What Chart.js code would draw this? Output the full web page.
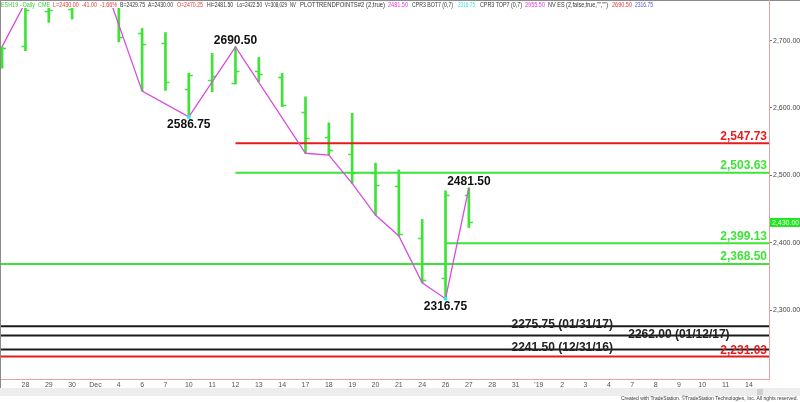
<!DOCTYPE html>
<html>
<head>
<meta charset="utf-8">
<script src="https://cdn.jsdelivr.net/npm/chart.js@4.4.1/dist/chart.umd.min.js"></script>
<style>
  html, body { margin: 0; padding: 0; background: #fff; }
  #wrap { width: 800px; height: 402px; position: relative; }
</style>
</head>
<body>
<div id="wrap"><canvas id="esChart"></canvas></div>
<script>
// ─── Data ─────────────────────────────────────────────────
// trading days (Nov 27 2018 .. Jan 14 2019), one slot each
const dayLabels = ['27','28','29','30','Dec','4','6','7','10','11','12','13','14','17','18','19','20','21','24','26','27',
                   '28','31',"'19",'2','3','4','7','8','9','10','11','14'];

const opens  = [2665, 2692, 2744, 2747, 2790, 2798, 2712, 2697, 2628, 2642, 2637, 2655, 2646, 2594.5, 2556.5, 2531, 2503, 2484, 2406.5, 2348, 2470.25];
const highs  = [2691, 2757, 2756, 2765, 2822, 2805, 2718, 2712, 2651.5, 2681, 2690.5, 2675, 2651.5, 2616.5, 2578, 2592, 2518, 2508, 2434.5, 2477, 2481.5];
const lows   = [2659, 2685, 2727, 2732, 2780, 2698, 2625, 2626, 2586.75, 2624, 2635.5, 2639, 2602, 2532.75, 2530, 2488, 2441, 2410, 2340.5, 2316.75, 2422.5];
const closes = [2689, 2746, 2746, 2760, 2800, 2706, 2695, 2639, 2649, 2647, 2655, 2650, 2605, 2555, 2537.5, 2503, 2485.5, 2413, 2344, 2470.5, 2430];

// trend-point zigzag (day index, price)
const pivotIdx  = [0, 1, 4, 6, 8, 10, 13, 14, 15, 16, 17, 18, 19, 20];
const pivotVals = [2691, 2757, 2822, 2625, 2586.75, 2690.5, 2532.75, 2530, 2488, 2441, 2410, 2340.5, 2316.75, 2481.5];
const labelledHighs = [2690.5, 2481.5];
const labelledLows  = [2586.75, 2316.75];

// retracement levels and the day they start
const fibLevels = [2547.73, 2503.63, 2399.13, 2368.50];
const fibFrom   = [10, 10, 19, 0];

// historic lows
const histLows  = [2275.75, 2262.00, 2241.50];
const histDates = ['01/31/17', '01/12/17', '12/31/16'];
const floorLevel = 2231.03;

const yTicks = [2300, 2400, 2500, 2600, 2700];

// ─── Styles ───────────────────────────────────────────────
const GREEN  = '#3de436';
const RED    = '#e61c1c';
const PINK   = '#d84cdf';
const BLACK  = '#1c1c1c';
const AXIS   = '#e3a3a3';
const FONT   = "'Liberation Sans', Arial, sans-serif";
const fibColors = [RED, GREEN, GREEN, GREEN];
const histLabelAt = [24, 29, 24];

const X_MIN = -0.09, X_MAX = 32.86;
const Y_MIN = 2197.6, Y_MAX = 2748.4;

const fmt = v => v.toLocaleString('en-US', { minimumFractionDigits: 2, maximumFractionDigits: 2 });

function levelLine(v, from, color) {
  return {
    type: 'line',
    data: [{ x: from === null ? X_MIN : from, y: v }, { x: X_MAX, y: v }],
    borderColor: color, borderWidth: 2, pointRadius: 0, clip: 0, order: 2,
  };
}

// ─── OHLC ticks + annotations ─────────────────────────────
const ohlcTicks = {
  id: 'ohlcTicks',
  afterDatasetDraw(chart, args) {
    if (args.index !== 0) return;
    const { ctx, chartArea: a, scales: { x, y } } = chart;
    ctx.save();
    ctx.beginPath();
    ctx.rect(a.left, a.top, a.right - a.left, a.bottom - a.top);
    ctx.clip();
    ctx.strokeStyle = GREEN;
    ctx.lineWidth = 1.5;
    opens.forEach((o, i) => {
      const px = x.getPixelForValue(i);
      const yo = Math.round(y.getPixelForValue(o)) + 0.5;
      const yc = Math.round(y.getPixelForValue(closes[i])) + 0.5;
      ctx.beginPath();
      ctx.moveTo(px - 4, yo); ctx.lineTo(px, yo);
      ctx.moveTo(px, yc); ctx.lineTo(px + 4, yc);
      ctx.stroke();
    });
    ctx.restore();
  },
};

const annotations = {
  id: 'annotations',
  beforeDraw(chart) {
    const { ctx, width } = chart;
    ctx.save();
    // scroll strip
    ctx.fillStyle = '#ededed';
    ctx.fillRect(0, 388, width, 8);
    ctx.fillStyle = '#cfcfcf';
    ctx.fillRect(757, 389, 6, 6);
    ctx.restore();
  },
  afterDraw(chart) {
    const { ctx, chartArea: a, scales: { x, y }, width } = chart;
    ctx.save();

    // frame
    ctx.strokeStyle = '#8a8a8a';
    ctx.lineWidth = 1;
    ctx.beginPath();
    ctx.moveTo(0, 0.5); ctx.lineTo(width, 0.5);
    ctx.moveTo(0.5, 0); ctx.lineTo(0.5, 388);
    ctx.stroke();
    ctx.strokeStyle = AXIS;
    ctx.beginPath();
    ctx.moveTo(a.right + 0.5, 0); ctx.lineTo(a.right + 0.5, a.top);
    ctx.stroke();

    // pivot labels
    ctx.font = `bold 12px ${FONT}`;
    ctx.fillStyle = '#111';
    ctx.textAlign = 'center';
    ctx.textBaseline = 'alphabetic';
    pivotVals.forEach((v, k) => {
      const px = x.getPixelForValue(pivotIdx[k]);
      const py = y.getPixelForValue(v);
      if (labelledHighs.includes(v)) ctx.fillText(v.toFixed(2), px, py - 3);
      if (labelledLows.includes(v)) ctx.fillText(v.toFixed(2), px, py + 11);
    });

    // retracement labels
    ctx.textAlign = 'right';
    fibLevels.forEach((v, k) => {
      ctx.fillStyle = fibColors[k];
      ctx.fillText(fmt(v), a.right - 2, y.getPixelForValue(v) - 3.5);
    });
    ctx.fillStyle = RED;
    ctx.fillText(fmt(floorLevel), a.right - 2, y.getPixelForValue(floorLevel) - 2);

    // historic low labels
    ctx.textAlign = 'center';
    ctx.fillStyle = '#222';
    histLows.forEach((v, k) => {
      ctx.fillText(`${v.toFixed(2)} (${histDates[k]})`, x.getPixelForValue(histLabelAt[k]), y.getPixelForValue(v) + 2);
    });

    // last price box
    const last = closes[closes.length - 1];
    const ly = y.getPixelForValue(last);
    ctx.fillStyle = '#22e622';
    ctx.fillRect(a.right + 1, ly - 4.5, width - a.right - 1, 9);
    ctx.fillStyle = '#f4fff4';
    ctx.font = `7px ${FONT}`;
    ctx.textAlign = 'left';
    ctx.textBaseline = 'middle';
    ctx.fillText(fmt(last), a.right + 3, ly + 0.5);

    // header (text, colour, start x, end x)
    const header = [
      ['ESH19 - Daily  CME', '#3cc83c', 1, 50], ['L=2430.00  -41.00  -1.66%', '#e23a3a', 53, 117],
      ['B=2429.75', '#333', 120, 145], ['A=2430.00', '#333', 148, 173], ['O=2470.25', '#e23a3a', 177, 203],
      ['Hi=2481.50', '#333', 207, 233], ['Lo=2422.50', '#333', 237, 262], ['V=308,029', '#333', 265, 287],
      ['NV', '#333', 290, 296], ['PLOTTRENDPOINTS#2 (2,true)', '#333', 300, 385], ['2481.50', '#dd3cdd', 388, 408],
      ['CPR3 BOT7 (0,7)', '#333', 412, 453], ['2316.75', '#3cdcdc', 458, 475], ['CPR3 TOP7 (0,7)', '#333', 480, 522],
      ['2955.50', '#dd3cdd', 525, 545], ['NV ES (2,false,true,"","")', '#333', 548, 608],
      ['2690.50', '#e23a3a', 612, 632], ['2316.75', '#5050e0', 635, 653],
    ];
    ctx.font = `6.5px ${FONT}`;
    ctx.textBaseline = 'middle';
    header.forEach(([t, c, hx, ex]) => { ctx.fillStyle = c; ctx.fillText(t, hx, 5, ex - hx); });

    // credit
    ctx.font = `5px ${FONT}`;
    ctx.fillStyle = '#333';
    ctx.textAlign = 'right';
    ctx.fillText('Created with TradeStation. ©TradeStation Technologies, Inc. All rights reserved.', width - 2, 399);
    ctx.restore();
  },
};

// ─── Chart ────────────────────────────────────────────────
const datasets = [
  {
    type: 'bar',
    data: highs.map((h, i) => ({ x: i, y: [lows[i], h] })),
    backgroundColor: GREEN, barThickness: 2, clip: 0, order: 3,
  },
  ...fibLevels.map((v, k) => levelLine(v, fibFrom[k] === 0 ? null : fibFrom[k], fibColors[k])),
  ...histLows.map(v => levelLine(v, null, BLACK)),
  levelLine(floorLevel, null, RED),
  {
    type: 'line',
    data: pivotIdx.map((i, k) => ({ x: i, y: pivotVals[k] })),
    borderColor: PINK, borderWidth: 1.3, pointRadius: 0, clip: 0, order: 1,
  },
  {
    type: 'scatter',
    data: pivotIdx.map((i, k) => ({ x: i, y: pivotVals[k] })).filter(p => labelledLows.includes(p.y)),
    backgroundColor: '#33e8f0', borderWidth: 0, pointRadius: 2, order: 0,
  },
];

const noPad = s => { s.paddingLeft = 0; s.paddingRight = 0; s.paddingTop = 0; s.paddingBottom = 0; };

new Chart(document.getElementById('esChart'), {
  type: 'bar',
  data: { datasets },
  plugins: [ohlcTicks, annotations],
  options: {
    responsive: true,
    maintainAspectRatio: false,
    animation: false,
    layout: { autoPadding: false, padding: { top: 8, left: 0, right: 0, bottom: 0 } },
    plugins: { legend: { display: false }, tooltip: { enabled: false } },
    scales: {
      x: {
        type: 'linear', min: X_MIN, max: X_MAX, offset: false,
        afterBuildTicks: s => { s.ticks = dayLabels.map((_, i) => ({ value: i })); },
        afterFit: s => { s.height = 23; noPad(s); },
        grid: { display: false, drawTicks: false, offset: false },
        border: { color: AXIS, width: 1 },
        ticks: {
          autoSkip: false, maxRotation: 0, padding: 2, color: '#555',
          font: { family: FONT, size: 7 },
          callback: v => (v === 0 ? '' : dayLabels[v]),
        },
      },
      y: {
        position: 'right', min: Y_MIN, max: Y_MAX,
        afterBuildTicks: s => { s.ticks = yTicks.map(v => ({ value: v })); },
        afterFit: s => { s.width = 31; noPad(s); },
        grid: { drawOnChartArea: false, drawTicks: true, tickLength: 3, color: '#777' },
        border: { color: AXIS, width: 1 },
        ticks: { padding: 1, color: '#444', font: { family: FONT, size: 7 }, callback: v => fmt(v) },
      },
    },
  },
});
</script>
</body>
</html>
